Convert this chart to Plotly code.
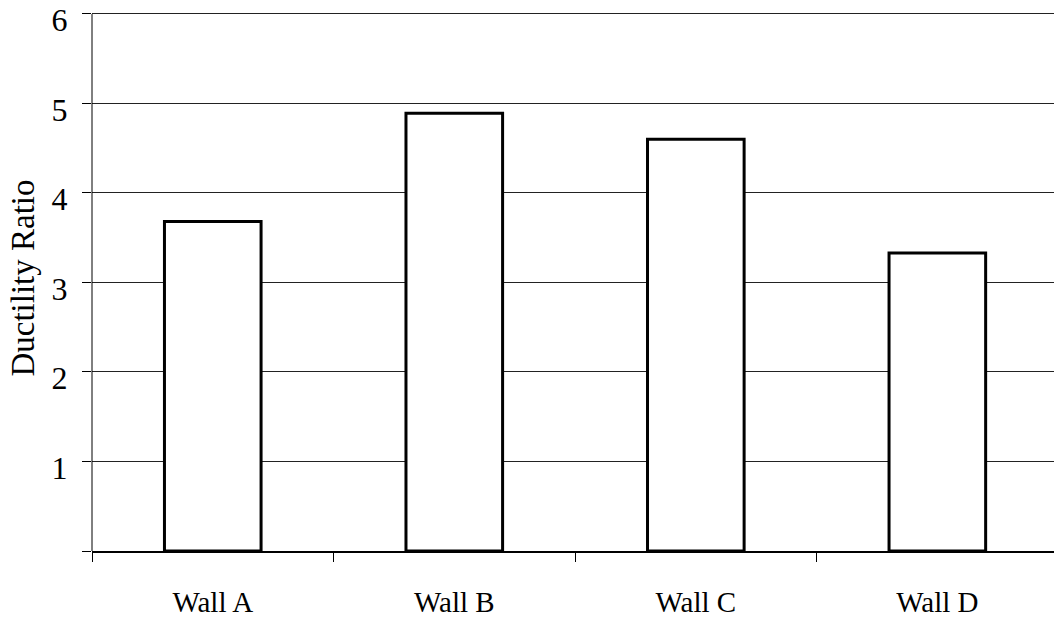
import plotly.graph_objects as go

categories = ["Wall A", "Wall B", "Wall C", "Wall D"]
ductility = [3.68, 4.89, 4.60, 3.33]
y_ticks = [0, 1, 2, 3, 4, 5, 6]

FONT = "Liberation Serif, Times New Roman, serif"
Y_MAX = 6.1
LABEL_SHIFT = 0.067  # labels sit slightly below their gridlines, as in the reference

fig = go.Figure()
fig.add_trace(go.Bar(
    x=categories, y=ductility, width=0.4,
    marker=dict(color="white", line=dict(color="black", width=3)),
    hoverinfo="skip",
))
# invisible companion trace so the label axis is drawn
fig.add_trace(go.Scatter(
    x=categories, y=ductility, mode="none", yaxis="y2",
    hoverinfo="skip", showlegend=False,
))

fig.update_layout(
    width=1054, height=620,
    margin=dict(l=92, r=0, t=5, b=69),
    paper_bgcolor="white", plot_bgcolor="white",
    showlegend=False,
    font=dict(family=FONT, color="black", size=30),
    yaxis=dict(
        range=[0, Y_MAX], tickvals=y_ticks, automargin=False,
        showline=False, showticklabels=False,
        ticks="outside", ticklen=9, tickcolor="black",
        showgrid=True, gridcolor="#222", gridwidth=1, zeroline=False,
    ),
    yaxis2=dict(
        overlaying="y", side="left", automargin=False,
        range=[LABEL_SHIFT, Y_MAX + LABEL_SHIFT], tickvals=y_ticks,
        showline=False, showgrid=False, zeroline=False,
        ticks="outside", ticklen=9, tickcolor="rgba(0,0,0,0)",
        tickfont=dict(family=FONT, size=32), ticklabelstandoff=8,
        ticklabeloverflow="allow",
        title=dict(text="Ductility Ratio", font=dict(family=FONT, size=33), standoff=7),
    ),
)
fig.update_xaxes(
    type="category", range=[-0.5, 3.483], automargin=False,
    showline=True, linecolor="black", linewidth=1.5,
    ticks="outside", ticklen=9, tickcolor="black", tickwidth=1,
    tickson="boundaries", showgrid=False,
    tickfont=dict(family=FONT, size=29), ticklabelstandoff=24,
)
# left axis line from 0 to 6 only
fig.add_shape(type="line", xref="paper", yref="y", x0=0, x1=0, y0=0, y1=y_ticks[-1],
              line=dict(color="black", width=1))

fig.write_html("out.html", config={"displayModeBar": False},
               post_script="document.body.style.margin='0';document.body.style.overflow='hidden';")
